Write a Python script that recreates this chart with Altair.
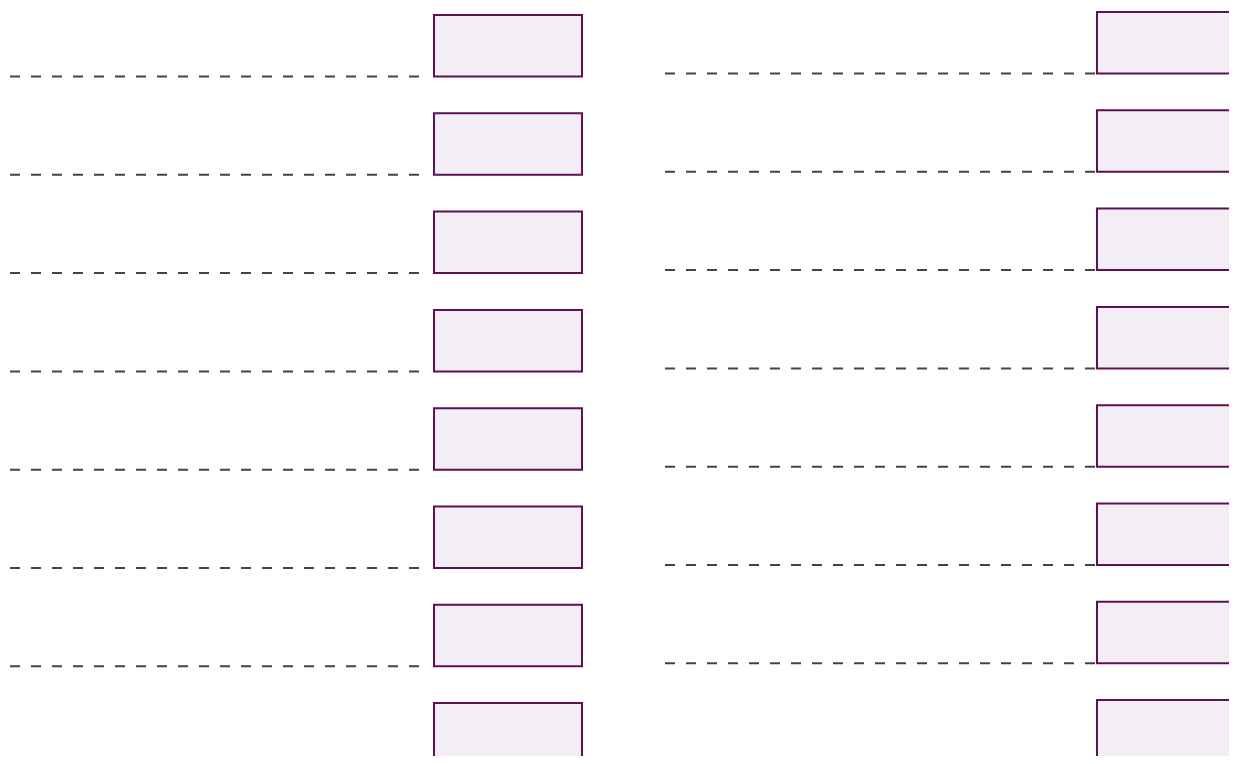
import altair as alt
import pandas as pd

# Two lanes of eight stacked boxes, each with a dashed leader line at its base
lanes = ["left", "right"]
rows = [0, 1, 2, 3, 4, 5, 6, 7]

# lane layout (in page pixel units)
lane_line_start = {"left": 10, "right": 665}
lane_line_end = {"left": 425, "right": 1097}
lane_box_left = {"left": 434, "right": 1097}
lane_box_right = {"left": 582, "right": 1260}
lane_first_top = {"left": 15, "right": 12}
row_pitch = 98.3
box_height = 61.5

recs = []
for lane in lanes:
    for r in rows:
        top = lane_first_top[lane] + r * row_pitch
        recs.append({
            "lane": lane, "row": r,
            "x0": lane_line_start[lane], "x1": lane_line_end[lane],
            "bx0": lane_box_left[lane], "bx1": lane_box_right[lane],
            "top": top, "bottom": top + box_height,
        })
df = pd.DataFrame(recs)

W, H = 1221, 748
xs = alt.Scale(domain=[8, 8 + W], nice=False, zero=False)
ys = alt.Scale(domain=[8, 8 + H], nice=False, zero=False, reverse=True)

base = alt.Chart(df)

lines = base.mark_rule(color="#444444", strokeWidth=2, strokeDash=[10, 11], clip=True).encode(
    x=alt.X("x0:Q", scale=xs, axis=None),
    x2="x1:Q",
    y=alt.Y("bottom:Q", scale=ys, axis=None),
)

boxes = base.mark_rect(fill="#f3eef5", stroke="#5e1052", strokeWidth=2, clip=True).encode(
    x=alt.X("bx0:Q", scale=xs, axis=None),
    x2="bx1:Q",
    y=alt.Y("top:Q", scale=ys, axis=None),
    y2="bottom:Q",
)

chart = alt.layer(lines, boxes).properties(
    width=W, height=H, padding=0, autosize=alt.AutoSizeParams(type="none")
).configure_view(stroke=None)

chart.save("out.html", embed_options={"renderer": "svg", "actions": False})
